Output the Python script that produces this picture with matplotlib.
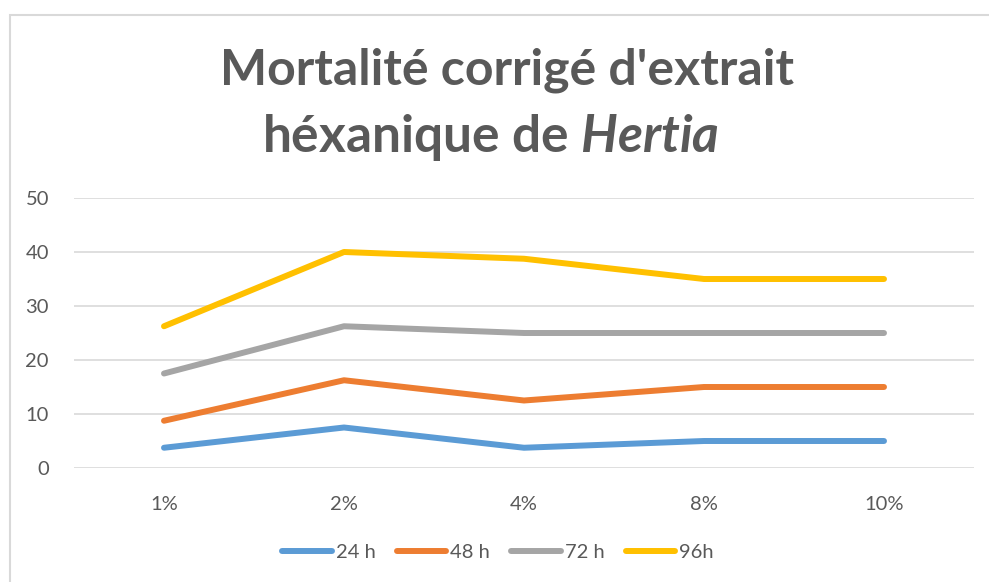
import numpy as np
import matplotlib.pyplot as plt
from matplotlib.patches import Rectangle

plt.rcParams['font.family'] = ['Lato', 'DejaVu Sans']
plt.rcParams['mathtext.fontset'] = 'custom'
plt.rcParams['mathtext.it'] = 'Lato:italic:bold'
plt.rcParams['mathtext.rm'] = 'Lato:bold'

categories = ['1%', '2%', '4%', '8%', '10%']
h24 = [3.75, 7.5, 3.75, 5, 5]
h48 = [8.75, 16.25, 12.5, 15, 15]
h72 = [17.5, 26.25, 25, 25, 25]
h96 = [26.25, 40, 38.75, 35, 35]

series = [('24 h', h24, '#5B9BD5'),
          ('48 h', h48, '#ED7D31'),
          ('72 h', h72, '#A5A5A5'),
          ('96h', h96, '#FFC000')]

W, H = 989, 582
fig = plt.figure(figsize=(W / 100, H / 100), dpi=100)
ax = fig.add_axes([74 / W, 1 - 468 / H, 900 / W, 270 / H])

# cadre du graphique
fig.patches.append(Rectangle((10 / W, -0.1), 1.2, 1 - 15 / H + 0.1,
                             transform=fig.transFigure, fill=False,
                             edgecolor='#D9D9D9', linewidth=1.5))

x = np.arange(len(categories))
for nom, vals, col in series:
    ax.plot(x, vals, color=col, linewidth=4.3, solid_capstyle='round',
            solid_joinstyle='round', label=nom)

ax.set_xlim(-0.5, len(categories) - 0.5)
ax.set_ylim(0, 50)
ax.set_yticks(range(0, 51, 10))
ax.set_xticks(x)
ax.set_xticklabels(categories)
ax.grid(axis='y', color='#D9D9D9', linewidth=1.2)
ax.set_axisbelow(True)
for s in ax.spines.values():
    s.set_visible(False)
ax.tick_params(length=0, labelsize=14.5, labelcolor='#595959')
ax.tick_params(axis='y', pad=18)
ax.tick_params(axis='x', pad=20)

fig.text(507 / W, 1 - 70 / H, "Mortalité corrigé d'extrait", ha='center',
         va='center', fontsize=36, fontweight='bold', color='#595959')
fig.text(491 / W, 1 - 137 / H, r"héxanique de $\mathit{Hertia}$", ha='center',
         va='center', fontsize=37, fontweight='bold', color='#595959')

fig.legend(loc='center', bbox_to_anchor=(498 / W, 1 - 552 / H), ncol=4,
           frameon=False, fontsize=14.5, labelcolor='#595959',
           handlelength=2.45, handletextpad=0.2, columnspacing=1.05)

fig.savefig('out.png', dpi=100)
